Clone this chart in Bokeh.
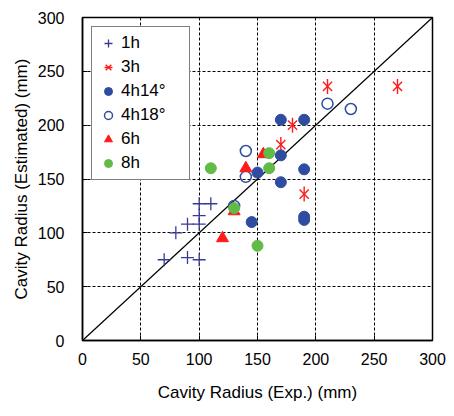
import numpy as np
from bokeh.plotting import figure
from bokeh.models import Range1d, Legend, LegendItem, FixedTicker
from bokeh.embed import file_html
from bokeh.resources import INLINE

# Data (Cavity radius experimental vs estimated, mm)
h1_x = [100, 110, 100, 90, 100, 80, 70, 90, 100]
h1_y = [127, 127, 116, 108, 108, 100, 75, 77, 75]
h3_x = [210, 270, 180, 170, 190]
h3_y = [236, 236, 200, 182, 136]
h414_x = [170, 190, 170, 150, 190, 170, 190, 190, 145]
h414_y = [205, 205, 172, 156, 159, 147, 115, 112, 110]
h418_x = [210, 230, 140, 140, 130]
h418_y = [220, 215, 176, 152, 125]
h6_x = [155, 140, 120, 130]
h6_y = [173, 160, 95, 120]
h8_x = [110, 160, 160, 130, 150]
h8_y = [160, 174, 160, 123, 88]
ticks = [0, 50, 100, 150, 200, 250, 300]
diag = [0, 300]

FONT = "Liberation Sans"

p = figure(width=454, height=416, output_backend="svg", toolbar_location=None,
           x_range=Range1d(0, 300), y_range=Range1d(0, 300),
           min_border_left=82, min_border_right=22, min_border_top=17, min_border_bottom=76)
p.outline_line_color = "black"
p.outline_line_width = 1.5

for ax in (p.xaxis, p.yaxis):
    ax.ticker = FixedTicker(ticks=ticks)
    ax.major_tick_in = 5
    ax.major_tick_out = 0
    ax.minor_tick_in = 0
    ax.minor_tick_out = 0
    ax.axis_line_color = "black"
    ax.axis_line_width = 1.5
    ax.major_tick_line_color = "black"
    ax.major_label_text_font = FONT
    ax.major_label_text_font_size = "16px"
    ax.major_label_text_color = "black"
    ax.axis_label_text_font = FONT
    ax.axis_label_text_font_size = "17px"
    ax.axis_label_text_font_style = "normal"
    ax.axis_label_text_color = "black"

p.xaxis.axis_label = "Cavity Radius (Exp.) (mm)"
p.yaxis.axis_label = "Cavity Radius (Estimated) (mm)"
p.xaxis.major_label_standoff = 12
p.yaxis.major_label_standoff = 18
p.xaxis.axis_label_standoff = 15
p.yaxis.axis_label_standoff = 4

for g in (p.xgrid, p.ygrid):
    g.ticker = FixedTicker(ticks=ticks)
    g.grid_line_color = "black"
    g.grid_line_dash = "3 2"
    g.grid_line_width = 1

p.line(diag, diag, line_color="black", line_width=1.2)

BLUE = "#2f4da0"
NAVY = "#3a3a96"
RED = "#ff1a1a"
GREEN = "#62bb47"

r1 = p.scatter(h1_x, h1_y, marker="cross", size=13, line_color=NAVY, line_width=1.3)
r3a = p.scatter(h3_x, h3_y, marker="x", size=13, line_color=RED, line_width=1.4)
r3b = p.scatter(h3_x, h3_y, marker="dash", angle=np.pi / 2, size=15, line_color=RED, line_width=1.4)
r414 = p.scatter(h414_x, h414_y, marker="circle", size=11, fill_color=BLUE, line_color=BLUE)
r418 = p.scatter(h418_x, h418_y, marker="circle", size=11, fill_color="white", fill_alpha=0,
                 line_color=BLUE, line_width=1.5)
r6 = p.scatter(h6_x, h6_y, marker="triangle", size=12, fill_color=RED, line_color=RED)
r8 = p.scatter(h8_x, h8_y, marker="circle", size=11, fill_color=GREEN, line_color=GREEN)

legend = Legend(items=[
    LegendItem(label="1h", renderers=[r1]),
    LegendItem(label="3h", renderers=[r3a, r3b]),
    LegendItem(label="4h14°", renderers=[r414]),
    LegendItem(label="4h18°", renderers=[r418]),
    LegendItem(label="6h", renderers=[r6]),
    LegendItem(label="8h", renderers=[r8]),
], location=(9, 160))
legend.border_line_color = "black"
legend.border_line_width = 1.5
legend.background_fill_color = "white"
legend.background_fill_alpha = 1
legend.label_text_font = FONT
legend.label_text_font_size = "17px"
legend.label_text_color = "black"
legend.padding = 6
legend.spacing = 4
legend.margin = 0
legend.glyph_width = 20
legend.glyph_height = 20
legend.label_height = 20
legend.label_standoff = 3
legend.label_width = 62
p.add_layout(legend, "center")

open("out.html", "w").write(file_html(p, INLINE))
